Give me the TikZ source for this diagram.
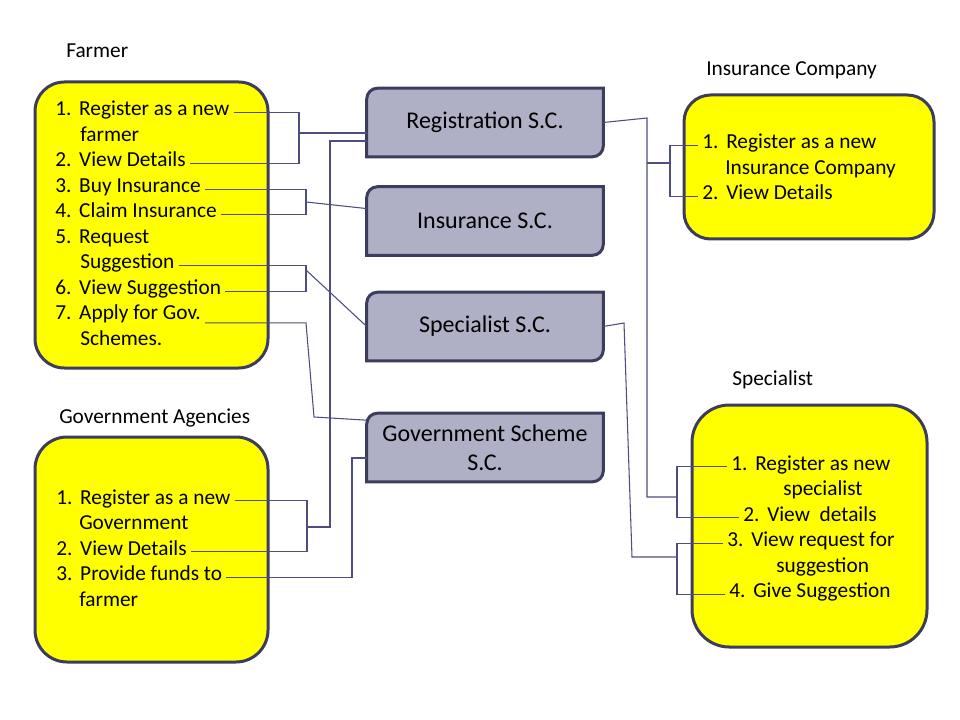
\documentclass[tikz,border=0pt]{standalone}
\usepackage{fontspec}
\setmainfont{Carlito}
\usepackage{xcolor}
\usepackage{tikz}
\usetikzlibrary{backgrounds}

\definecolor{boxedge}{HTML}{3C3C5C}
\definecolor{actorfill}{HTML}{FFFF00}
\definecolor{scfill}{HTML}{AFAFC5}
\definecolor{wirecol}{HTML}{4D4D80}

\begin{document}
\begin{tikzpicture}[
  x=0.75pt, y=-0.75pt,
  actor/.style={draw=boxedge, line width=2.25pt, fill=actorfill, rounded corners=22pt},
  scbox/.style={minimum width=177pt, minimum height=51pt, align=center,
                inner sep=0pt, font=\fontsize{18}{21.75}\selectfont},
  scframe/.style={draw=boxedge, line width=2.25pt, fill=scfill},
  item/.style={anchor=base west, inner xsep=3pt, inner ysep=0pt,
               text height=0.67em, text depth=0.2em, font=\fontsize{16}{19}\selectfont},
  title/.style={anchor=base west, inner sep=0pt, font=\fontsize{16}{19}\selectfont},
  wire/.style={draw=wirecol, line width=0.8pt}
]
  \useasboundingbox (0,0) rectangle (960,720);

  % --- Actor boxes ---
  \node[actor, minimum width=174.75pt, minimum height=214.5pt] (farmer) at (151.5,225) {};
  \node[actor, rounded corners=24pt, minimum width=174.75pt, minimum height=168.75pt] (govag) at (151.5,549.5) {};
  \node[actor, rounded corners=20pt, minimum width=187.5pt, minimum height=108pt] (insco) at (809,167) {};
  \node[actor, rounded corners=28pt, minimum width=176.25pt, minimum height=181.5pt] (expert) at (809.5,526) {};

  \node[title] (farmerlbl) at (66,58)  {Farmer};
  \node[title] (govlbl)    at (59,423) {Government Agencies};
  \node[title] (inslbl)    at (706,76) {Insurance Company};
  \node[title] (speclbl)   at (732,385) {Specialist};

  % --- Farmer items ---
  \node[item] (f1)  at (51,116)   {\makebox[18pt][l]{1.}Register as a new};
  \node[item] (f1b) at (76,141.5) {farmer};
  \node[item] (f2)  at (51,167)   {\makebox[18pt][l]{2.}View Details};
  \node[item] (f3)  at (51,192.5) {\makebox[18pt][l]{3.}Buy Insurance};
  \node[item] (f4)  at (51,218)   {\makebox[18pt][l]{4.}Claim Insurance};
  \node[item] (f5)  at (51,243.5) {\makebox[18pt][l]{5.}Request};
  \node[item] (f5b) at (76,269)   {Suggestion};
  \node[item] (f6)  at (51,294.5) {\makebox[18pt][l]{6.}View Suggestion};
  \node[item] (f7)  at (51,320)   {\makebox[18pt][l]{7.}Apply for Gov.};
  \node[item] (f7b) at (76,345.5) {Schemes.};

  % --- Government agency items ---
  \node[item] (g1)  at (52,504)   {\makebox[18pt][l]{1.}Register as a new};
  \node[item] (g1b) at (75,529.5) {Government};
  \node[item] (g2)  at (52,555)   {\makebox[18pt][l]{2.}View Details};
  \node[item] (g3)  at (52,580.5) {\makebox[18pt][l]{3.}Provide funds to};
  \node[item] (g3b) at (75,606)   {farmer};

  % --- Insurance company items ---
  \node[item] (i1)  at (698,149)   {\makebox[18pt][l]{1.}Register as a new};
  \node[item] (i1b) at (721,174.5) {Insurance Company};
  \node[item] (i2)  at (698,200)   {\makebox[18pt][l]{2.}View Details};

  % --- Specialist items ---
  \node[item] (s1)  at (727,470)   {\makebox[18pt][l]{1.}Register as new};
  \node[item] (s1b) at (779,495.5) {specialist};
  \node[item] (s2)  at (739,521)   {\makebox[18pt][l]{2.}View\ \ details};
  \node[item] (s3)  at (723,546.5) {\makebox[18pt][l]{3.}View request for};
  \node[item] (s3b) at (772,572)   {suggestion};
  \node[item] (s4)  at (725,597.5) {\makebox[18pt][l]{4.}Give Suggestion};

  % --- Service components (middle column) ---
  \node[scbox] (regsc)  at (485,122.5) {Registration S.C.};
  \node[scbox] (inssc)  at (485,221)   {Insurance S.C.};
  \node[scbox] (specsc) at (485,326.5) {Specialist S.C.};
  \node[scbox] (govsc)  at (485,447.5) {Government Scheme\\S.C.};

  \begin{scope}[on background layer]
    \draw[scframe] (regsc.north) [rounded corners=8pt] -- (regsc.north west) [sharp corners] -- (regsc.south west)
      [rounded corners=8pt] -- (regsc.south east) [sharp corners] -- (regsc.north east) -- cycle;
    \draw[scframe] (inssc.north) [rounded corners=8pt] -- (inssc.north west) [sharp corners] -- (inssc.south west)
      [rounded corners=8pt] -- (inssc.south east) [sharp corners] -- (inssc.north east) -- cycle;
    \draw[scframe] (specsc.north) [rounded corners=8pt] -- (specsc.north west) [sharp corners] -- (specsc.south west)
      [rounded corners=8pt] -- (specsc.south east) [sharp corners] -- (specsc.north east) -- cycle;
    \draw[scframe] (govsc.north) [rounded corners=8pt] -- (govsc.north west) [sharp corners] -- (govsc.south west)
      [rounded corners=8pt] -- (govsc.south east) [sharp corners] -- (govsc.north east) -- cycle;
  \end{scope}

  % --- Join points of the brackets ---
  \coordinate (fr)  at (299,133);
  \coordinate (fi)  at (306,202);
  \coordinate (fs)  at (306,270);
  \coordinate (fa)  at (306,0);
  \coordinate (fb)  at (314,417);
  \coordinate (rg)  at (330,141);
  \coordinate (gj)  at (307,527);
  \coordinate (gk)  at (352,458);
  \coordinate (rj)  at (647,118);
  \coordinate (ibr) at (670,163);
  \coordinate (sj1) at (677,497);
  \coordinate (sk1) at (624,323);
  \coordinate (sk2) at (632,557);
  \coordinate (sj2) at (677,557);

  % --- Left side wires ---
  \draw[wire] (f1.east) -| (fr) |- (f2.east);
  \draw[wire] (fr) -- (fr -| regsc.west);
  \draw[wire] (f3.east) -| (fi) |- (f4.east);
  \draw[wire] (fi) -- (inssc.174);
  \draw[wire] (f5b.east) -| (fs) |- (f6.east);
  \draw[wire] (fs) -- (specsc.west);
  \draw[wire] (f7.south east) -- (f7.south east -| fa) -- (fb) -- (govsc.167);
  \draw[wire] (rg -| regsc.west) -- (rg) |- (gj);
  \draw[wire] (g1.east) -| (gj) |- (g2.east);
  \draw[wire] (g3.east) -| (gk) -- (gk -| govsc.west);

  % --- Right side wires ---
  \draw[wire] (regsc.east) -- (rj) |- (sj1);
  \draw[wire] (rj |- ibr) -- (ibr);
  \draw[wire] (i1.west) -| (ibr) |- (i2.west);
  \draw[wire] (s1.west) -| (sj1) |- (s2.west);
  \draw[wire] (specsc.east) -- (sk1) -- (sk2) -- (sj2);
  \draw[wire] (s3.west) -| (sj2) |- (s4.west);
\end{tikzpicture}
\end{document}
